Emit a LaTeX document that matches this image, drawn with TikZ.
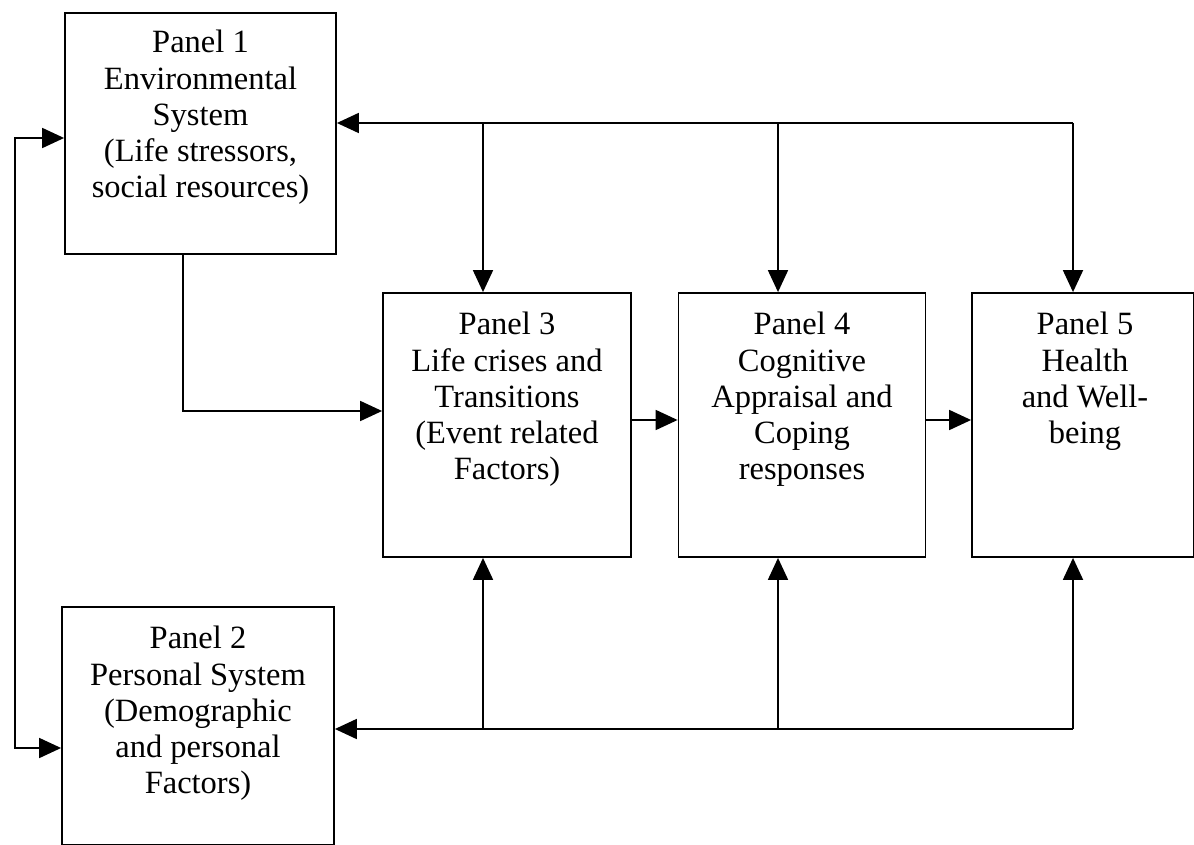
\documentclass[tikz,border=0pt]{standalone}
\usepackage{fontspec}
\setmainfont{Liberation Serif}
\usetikzlibrary{arrows.meta}
\begin{document}
\begin{tikzpicture}[x=1pt,y=-1pt,
  panel/.style={draw,line width=1.8pt,inner sep=0pt},
  ptext/.style={anchor=north,align=center,inner sep=0pt,font=\fontsize{32.5}{36.2}\selectfont},
  arr/.style={line width=1.8pt,-{Triangle[length=22pt,width=20pt]}},
  dbl/.style={line width=1.8pt,{Triangle[length=22pt,width=20pt]}-{Triangle[length=22pt,width=20pt]}},
  ln/.style={line width=1.8pt}]
\useasboundingbox (0,0) rectangle (1194,845);
% boxes
\node[panel,minimum width=271pt,minimum height=241pt] (p1) at (200.5,133.5) {};
\node[panel,minimum width=272pt,minimum height=238pt] (p2) at (198,726) {};
\node[panel,minimum width=248pt,minimum height=264pt] (p3) at (507,425) {};
\node[panel,minimum width=247pt,minimum height=264pt] (p4) at (802,425) {};
\node[panel,minimum width=222pt,minimum height=264pt] (p5) at (1083,425) {};
% texts
\node[ptext] (t1) at ([yshift=-18pt]p1.north) {Panel 1\\Environmental\\System\\(Life stressors,\\social resources)};
\node[ptext] (t2) at ([yshift=-20pt]p2.north) {Panel 2\\Personal System\\(Demographic\\and personal\\Factors)};
\node[ptext] (t3) at ([yshift=-20pt]p3.north) {Panel 3\\Life crises and\\Transitions\\(Event related\\Factors)};
\node[ptext] (t4) at ([yshift=-20pt]p4.north) {Panel 4\\Cognitive\\Appraisal and\\Coping\\responses};
\node[ptext] (t5) at ([xshift=2pt,yshift=-20pt]p5.north) {Panel 5\\Health\\and Well-\\being};
% top bus
\coordinate (a3) at (483,123);
\coordinate (a4) at (778,123);
\coordinate (a5) at (1073,123);
\draw[arr] (a5) -- (a5 -| p1.east);
\draw[arr] (a3) -- (a3 |- p3.north);
\draw[arr] (a4) -- (a4 |- p4.north);
\draw[arr] (a5) -- (a5 |- p5.north);
% bottom bus
\coordinate (b3) at (483,729);
\coordinate (b4) at (778,729);
\coordinate (b5) at (1073,729);
\draw[arr] (b5) -- (b5 -| p2.east);
\draw[arr] (b3) -- (b3 |- p3.south);
\draw[arr] (b4) -- (b4 |- p4.south);
\draw[arr] (b5) -- (b5 |- p5.south);
% left loop
\coordinate (l1) at (15,138);
\coordinate (l2) at (15,748);
\draw[dbl] (l1 -| p1.west) -- (l1) -- (l2) -- (l2 -| p2.west);
% panel 1 to panel 3
\coordinate (d1) at (183,411);
\draw[arr] (d1 |- p1.south) -- (d1) -- (d1 -| p3.west);
% horizontal chain
\coordinate (h) at (650,420);
\draw[arr] (h -| p3.east) -- (h -| p4.west);
\draw[arr] (h -| p4.east) -- (h -| p5.west);
\end{tikzpicture}
\end{document}
